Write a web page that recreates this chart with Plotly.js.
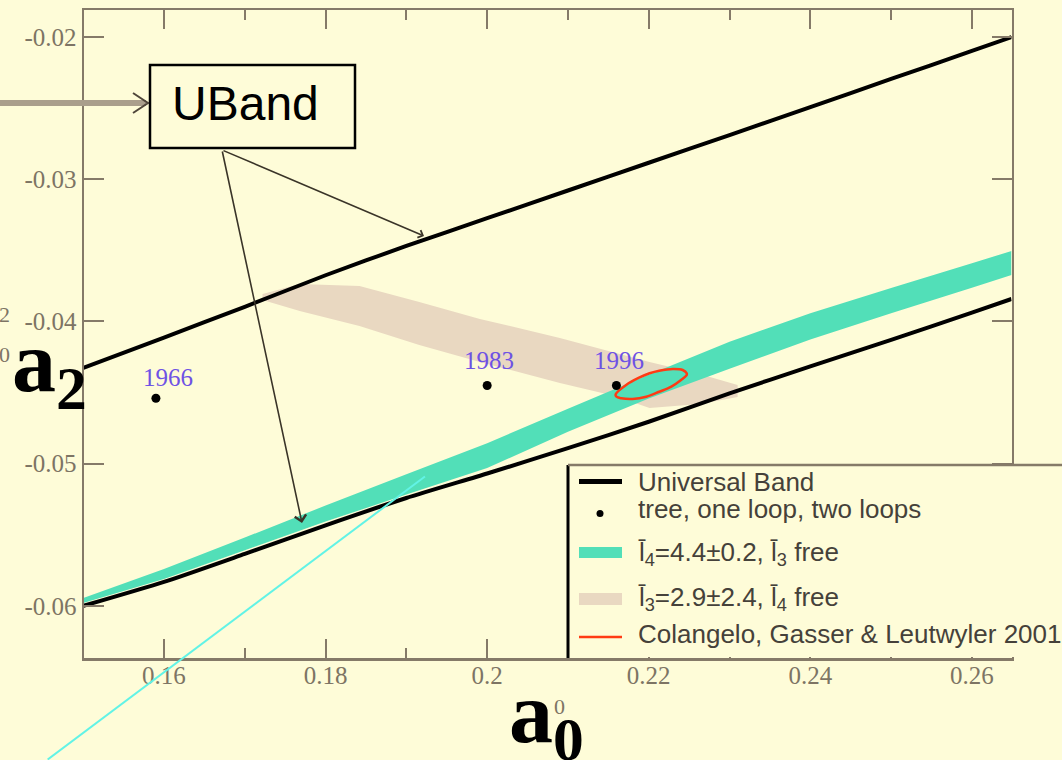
<!DOCTYPE html>
<html>
<head>
<meta charset="utf-8">
<script src="https://cdn.plot.ly/plotly-3.0.1.min.js"></script>
<style>
  html, body { margin: 0; padding: 0; background: #fefcd8; }
  #chart { width: 1062px; height: 760px; }
</style>
</head>
<body>
<div id="chart"></div>
<script>
// I=0 and I=2 S-wave scattering lengths: a0 (x) against a2 (y)

// Universal band: common a0 grid with upper and lower edges
const bandA0    = [0.150, 0.160, 0.170, 0.180, 0.190, 0.200, 0.210, 0.220, 0.230, 0.240, 0.250, 0.260, 0.2649];
const bandUpper = [-0.04327, -0.04113, -0.03897, -0.03675, -0.03469, -0.03274, -0.03079, -0.02884, -0.02690, -0.02493, -0.02295, -0.02098, -0.02000];
const bandLower = [-0.06000, -0.05831, -0.05634, -0.05433, -0.05241, -0.05069, -0.04891, -0.04705, -0.04505, -0.04316, -0.04130, -0.03937, -0.03842];

// l4 = 4.4 +- 0.2 band (same a0 grid)
const l4Upper = [-0.05944, -0.05741, -0.05519, -0.05294, -0.05074, -0.04856, -0.04614, -0.04375, -0.04142, -0.03942, -0.03764, -0.03591, -0.03504];
const l4Lower = [-0.05979, -0.05810, -0.05609, -0.05407, -0.05217, -0.05031, -0.04776, -0.04541, -0.04333, -0.04126, -0.03942, -0.03762, -0.03673];

// l3 = 2.9 +- 2.4 band outline: upper edge left to right, lower edge right to left
const l3TopA0 = [0.1722, 0.1768, 0.1842, 0.1916, 0.1991, 0.2090, 0.2201, 0.2263, 0.2310];
const l3TopA2 = [-0.03807, -0.03736, -0.03750, -0.03863, -0.03982, -0.04116, -0.04285, -0.04369, -0.04446];
const l3BotA0 = [0.2310, 0.2263, 0.2201, 0.2158, 0.2090, 0.1991, 0.1916, 0.1842, 0.1768, 0.1722];
const l3BotA2 = [-0.04531, -0.04580, -0.04608, -0.04524, -0.04432, -0.04285, -0.04165, -0.04032, -0.03926, -0.03849];

// tree, one loop, two loops
const yearLabels = ['1966', '1983', '1996'];
const yearA0 = [0.159, 0.200, 0.216];
const yearA2 = [-0.0454, -0.0445, -0.0445];

// Colangelo, Gasser & Leutwyler 2001 error ellipse outline
const cglA0 = [0.2159, 0.2172, 0.2188, 0.2201, 0.2213, 0.2230, 0.2242, 0.2247, 0.2247, 0.2240, 0.2228, 0.2213, 0.2197, 0.2180, 0.2166, 0.2160, 0.2159];
const cglA2 = [-0.04512, -0.04446, -0.04395, -0.04364, -0.04346, -0.04334, -0.04341, -0.04364, -0.04376, -0.04411, -0.04458, -0.04494, -0.04529, -0.04545, -0.04540, -0.04529, -0.04512];

// thin cyan line running in from below the frame
const cyanA0 = [0.1456, 0.1923];
const cyanA2 = [-0.0708, -0.0509];

// axis ticks
const xTickVals  = [0.16, 0.18, 0.20, 0.22, 0.24, 0.26];
const xTickText  = ['0.16', '0.18', '0.2', '0.22', '0.24', '0.26'];
const xMinorVals = [0.17, 0.19, 0.21, 0.23, 0.25];
const yTickVals  = [-0.06, -0.05, -0.04, -0.03, -0.02];
const yTickText  = ['-0.06', '-0.05', '-0.04', '-0.03', '-0.02'];

// legend entries
const legendLabels = [
  'Universal Band',
  'tree, one loop, two loops',
  'l\u0304<sub>4</sub>=4.4\u00b10.2, l\u0304<sub>3</sub> free',
  'l\u0304<sub>3</sub>=2.9\u00b12.4, l\u0304<sub>4</sub> free',
  'Colangelo, Gasser & Leutwyler 2001'
];

// ---------- page geometry ----------
const W = 1062, H = 760;
const BOX = { l: 84, r: 1011.5, t: 10, b: 658 };
const xRange = [0.1501, 0.2649];
const yRange = [-0.06366, -0.0181];
const px = v => v / W;
const py = v => 1 - v / H;

// full-page axes with the same scale, so a line can run past the frame
const sx = (xRange[1] - xRange[0]) / (BOX.r - BOX.l);
const sy = (yRange[1] - yRange[0]) / (BOX.b - BOX.t);
const x2Range = [xRange[0] - BOX.l * sx, xRange[1] + (W - BOX.r) * sx];
const y2Range = [yRange[0] - (H - BOX.b) * sy, yRange[1] + BOX.t * sy];

const BG = '#fefcd8';
const AXIS = '#857a68';
const TEAL = '#52dfb8';
const BEIGE = '#e9d8c1';
const RED = '#ff3b14';
const PURPLE = '#6e52e4';
const TXT = '#45413a';

const rev = a => a.slice().reverse();

const traces = [
  { x: l3TopA0.concat(l3BotA0), y: l3TopA2.concat(l3BotA2), mode: 'none',
    fill: 'toself', fillcolor: BEIGE, hoverinfo: 'skip' },
  { x: bandA0.concat(rev(bandA0)), y: l4Upper.concat(rev(l4Lower)), mode: 'none',
    fill: 'toself', fillcolor: TEAL, hoverinfo: 'skip' },
  { x: bandA0, y: bandUpper, mode: 'lines', line: { color: '#000', width: 4, shape: 'spline', smoothing: 0.6 } },
  { x: bandA0, y: bandLower, mode: 'lines', line: { color: '#000', width: 4, shape: 'spline', smoothing: 0.6 } },
  { x: cglA0, y: cglA2, mode: 'lines', line: { color: RED, width: 2.5, shape: 'spline', smoothing: 1 } },
  { x: yearA0, y: yearA2, mode: 'markers', marker: { color: '#000', size: 9 } },
  { x: cyanA0, y: cyanA2, xaxis: 'x2', yaxis: 'y2', mode: 'lines',
    line: { color: '#62f3e6', width: 2 } }
];

const axisCommon = {
  showline: true, linecolor: AXIS, linewidth: 2.5, mirror: 'ticks',
  ticks: 'inside', tickcolor: AXIS, tickwidth: 2,
  tickmode: 'array', showgrid: false, zeroline: false, fixedrange: true,
  tickfont: { family: 'Liberation Serif', size: 25, color: '#7d7464' }
};

// label offsets (pixels) for the year annotations
const yearShift = [[12, 21], [2, 25], [3, 25]];

const annotations = [];
yearLabels.forEach((t, i) => annotations.push({
  x: yearA0[i], y: yearA2[i], xref: 'x', yref: 'y', text: t, showarrow: false,
  xanchor: 'center', yanchor: 'middle',
  xshift: yearShift[i][0], yshift: yearShift[i][1],
  font: { family: 'Liberation Serif', size: 25, color: PURPLE }
}));

// UBand callout text and its two arrows
annotations.push({ x: px(245), y: py(104), xref: 'paper', yref: 'paper', text: 'UBand',
  xanchor: 'center', yanchor: 'middle',
  showarrow: false, font: { family: 'Liberation Sans', size: 48, color: '#000' } });
annotations.push({ x: px(424), y: py(236), xref: 'paper', yref: 'paper', text: '',
  showarrow: true, ax: -202, ay: -86, arrowhead: 4, arrowsize: 1, arrowwidth: 1.6, arrowcolor: '#3a3428' });
annotations.push({ x: px(302), y: py(523), xref: 'paper', yref: 'paper', text: '',
  showarrow: true, ax: -80, ay: -373, arrowhead: 4, arrowsize: 1.4, arrowwidth: 1.6, arrowcolor: '#3a3428' });

// big axis titles
annotations.push({ x: px(10), y: py(367), xref: 'paper', yref: 'paper', xanchor: 'left', yanchor: 'middle',
  text: '<b>a<sub>2</sub></b>', showarrow: false,
  font: { family: 'Liberation Serif', size: 88, color: '#000' } });
annotations.push({ x: px(507), y: py(718), xref: 'paper', yref: 'paper', xanchor: 'left', yanchor: 'middle',
  text: '<b>a<sub>0</sub></b>', showarrow: false,
  font: { family: 'Liberation Serif', size: 88, color: '#000' } });
// small index marks beside the titles
annotations.push({ x: px(12), y: py(314), xref: 'paper', yref: 'paper', xanchor: 'right', yanchor: 'middle',
  text: '2', showarrow: false, font: { family: 'Liberation Serif', size: 22, color: '#7d7464' } });
annotations.push({ x: px(12), y: py(355), xref: 'paper', yref: 'paper', xanchor: 'right', yanchor: 'middle',
  text: '0', showarrow: false, font: { family: 'Liberation Serif', size: 22, color: '#7d7464' } });
annotations.push({ x: px(559), y: py(706), xref: 'paper', yref: 'paper', xanchor: 'center', yanchor: 'middle',
  text: '0', showarrow: false, font: { family: 'Liberation Serif', size: 22, color: '#7d7464' } });

// legend text
const legendRowY = [482, 509, 553, 598, 634];
legendLabels.forEach((t, i) => annotations.push({
  x: px(636), y: py(legendRowY[i]), xref: 'paper', yref: 'paper', xanchor: 'left', yanchor: 'middle',
  text: t, showarrow: false, font: { family: 'Liberation Sans', size: 26, color: TXT }
}));

const P = (x, y) => px(x).toFixed(5) + ',' + py(y).toFixed(5);
const paperLine = (x0, y0, x1, y1, color, width) => ({
  type: 'line', xref: 'paper', yref: 'paper', x0: px(x0), y0: py(y0), x1: px(x1), y1: py(y1),
  line: { color: color, width: width }
});
const paperRect = (x0, y0, x1, y1, fill, lineColor, lineWidth) => ({
  type: 'rect', xref: 'paper', yref: 'paper', x0: px(x0), y0: py(y0), x1: px(x1), y1: py(y1),
  fillcolor: fill, line: { color: lineColor || fill, width: lineWidth || 0 }
});

const shapes = [
  // arrow coming in from the left into the callout
  paperLine(0, 103, 146, 103, '#aa9f8c', 6),
  { type: 'path', xref: 'paper', yref: 'paper',
    path: 'M' + P(133, 93) + 'L' + P(148, 103) + 'L' + P(133, 113),
    line: { color: '#4f463a', width: 2 } },
  // callout box
  paperRect(150, 65, 355, 148, BG, '#000', 2.5),
  // legend panel
  paperRect(568, 465, 1075, 657, BG),
  paperLine(568, 465, 568, 658, '#000', 3),
  paperLine(568, 465, 1062, 465, AXIS, 2.5),
  // legend swatches
  paperLine(579, 481.5, 622, 481.5, '#000', 5),
  { type: 'circle', xref: 'paper', yref: 'paper', x0: px(596.5), y0: py(510), x1: px(603.5), y1: py(517),
    fillcolor: '#000', line: { color: '#000', width: 0 } },
  paperRect(579, 547, 622, 558, TEAL),
  paperRect(579, 593, 622, 605, BEIGE),
  paperLine(579, 637, 622, 637, RED, 2.5)
];

const layout = {
  width: W, height: H,
  margin: { l: 0, r: 0, t: 0, b: 0, pad: 0, autoexpand: false },
  paper_bgcolor: BG, plot_bgcolor: 'rgba(0,0,0,0)',
  showlegend: false,
  xaxis: Object.assign({}, axisCommon, {
    domain: [px(BOX.l), px(BOX.r)], range: xRange, anchor: 'y',
    tickvals: xTickVals, ticktext: xTickText, ticklen: 19, ticklabelstandoff: -7,
    minor: { tickmode: 'array', tickvals: xMinorVals, ticks: 'inside', ticklen: 10,
             tickwidth: 2, tickcolor: AXIS, showgrid: false }
  }),
  yaxis: Object.assign({}, axisCommon, {
    domain: [py(BOX.b), py(BOX.t)], range: yRange, anchor: 'x',
    tickvals: yTickVals, ticktext: yTickText, ticklen: 20
  }),
  xaxis2: { domain: [0, 1], range: x2Range, anchor: 'y2', visible: false, fixedrange: true },
  yaxis2: { domain: [0, 1], range: y2Range, anchor: 'x2', visible: false, fixedrange: true },
  shapes: shapes,
  annotations: annotations
};

Plotly.newPlot('chart', traces, layout, { displayModeBar: false, staticPlot: true });
</script>
</body>
</html>
